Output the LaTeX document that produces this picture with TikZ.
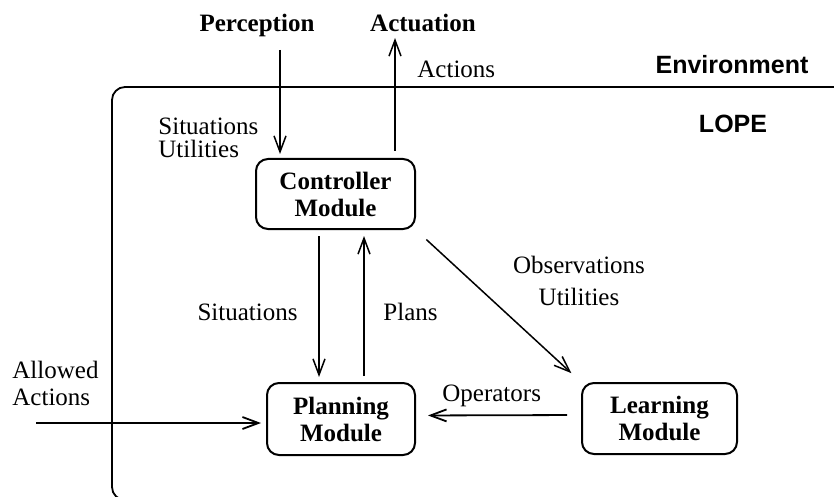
\documentclass[tikz,border=0pt]{standalone}
\usepackage{fontspec}
\setmainfont{Liberation Serif}
\setsansfont{Liberation Sans}
\usetikzlibrary{arrows.meta}

\begin{document}
\begin{tikzpicture}[x=0.5pt,y=-0.5pt,
  module/.style={draw, line width=1pt, rounded corners=6pt, inner sep=0pt,
    align=center, font=\fontsize{12.5}{13.5}\selectfont\bfseries},
  lbl/.style={inner sep=0pt, font=\fontsize{12.5}{13.5}\selectfont},
  title/.style={inner sep=0pt, font=\fontsize{12.5}{13.5}\selectfont\bfseries},
  region/.style={inner sep=0pt, font=\fontsize{12.5}{13.5}\selectfont\sffamily\bfseries},
  flow/.style={line width=0.75pt, -{Straight Barb[length=8pt,width=6pt]}}]

\useasboundingbox (0,0) rectangle (834,497);

%---------------------------------------
% LOPE boundary (environment line)
%---------------------------------------
\begin{scope}
  \clip (0,0) rectangle (834,497);
  \draw[line width=0.9pt, rounded corners=6.5pt] (112,87) rectangle (900,500);
\end{scope}

\node[region, anchor=base] (env)  at (732,74)  {Environment};
\node[region, anchor=base] (lope) at (733,133) {LOPE};

%---------------------------------------
% Modules
%---------------------------------------
\node[module, minimum width=79.5pt, minimum height=35pt]   (ctrl)  at (335.5,194)   {Controller\\Module};
\node[module, minimum width=74pt,   minimum height=36pt]   (plan)  at (341,419)     {Planning\\Module};
\node[module, minimum width=77.5pt, minimum height=35.5pt] (learn) at (659.5,418.5) {Learning\\Module};

%---------------------------------------
% Outside world
%---------------------------------------
\node[title, anchor=base] (perc) at (257,32) {Perception};
\node[title, anchor=base] (actu) at (423,32) {Actuation};

\coordinate (percin)  at (280,50);
\coordinate (actout)  at (395,38);
\coordinate (allowin) at (36,423);
\coordinate (sitx)    at (319,0);
\coordinate (planx)   at (364,0);

\draw[flow, shorten >=2pt]  (percin) -- (percin |- ctrl.north);
\draw[flow, shorten <=3.5pt] (ctrl.north -| actout) -- (actout);
\node[lbl, anchor=base west] (actlbl) at (417,78) {Actions};
\node[lbl, anchor=north west, align=left, font=\fontsize{12.5}{11.5}\selectfont]
  (sitin) at (158,118) {Situations\\Utilities};

%---------------------------------------
% Controller <-> Planning
%---------------------------------------
\draw[flow, shorten <=3pt, shorten >=2.5pt] (ctrl.south -| sitx) -- (plan.north -| sitx);
\draw[flow, shorten <=3pt, shorten >=3pt]   (plan.north -| planx) -- (ctrl.south -| planx);
\node[lbl, anchor=base east] (sitlbl)  at (298,320) {Situations};
\node[lbl, anchor=base west] (planlbl) at (383,320) {Plans};

%---------------------------------------
% Learning
%---------------------------------------
\draw[flow, shorten <=7pt, shorten >=6.5pt] (ctrl.south east) -- (learn.north west);
\node[lbl, anchor=north, align=center, font=\fontsize{12.5}{16}\selectfont]
  (obslbl) at (579,256) {Observations\\Utilities};

\draw[flow, line width=0.9pt, shorten <=7pt, shorten >=6pt]
  ([yshift=1.75pt]learn.west) -- ([yshift=1.75pt]plan.east);
\node[lbl, anchor=base west] (oplbl) at (442,401) {Operators};

\draw[flow, line width=0.9pt, shorten >=2.5pt] (allowin) -- (allowin -| plan.west);
\node[lbl, anchor=north west, align=left] (allowlbl) at (12,361) {Allowed\\Actions};

\end{tikzpicture}
\end{document}
